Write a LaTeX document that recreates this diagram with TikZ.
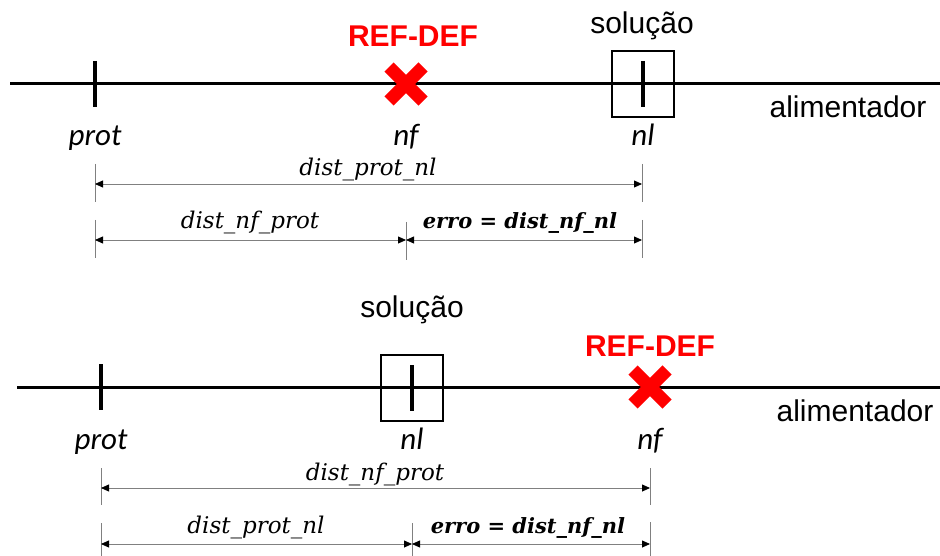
\documentclass[tikz,border=0pt]{standalone}
\usepackage{fontspec}
\setmainfont{Liberation Sans}
\newfontfamily\carlito{Carlito}
\newfontfamily\dimfont{DejaVu Serif}
\usetikzlibrary{arrows.meta}
\newcommand{\faultmark}[1]{%
  \draw[fault] ([shift={(-17,-17)}]#1) -- ([shift={(17,17)}]#1);
  \draw[fault] ([shift={(-17,17)}]#1) -- ([shift={(17,-17)}]#1);}
\begin{document}
\begin{tikzpicture}[x=1pt,y=-1pt,
  feeder/.style={line width=3pt},
  tickmark/.style={line width=4pt},
  solbox/.style={draw, line width=1.5pt, minimum width=62pt, minimum height=66pt, inner sep=0pt},
  fault/.style={draw=red, line width=13pt},
  lbl/.style={font=\fontsize{30}{32}\selectfont, anchor=base, inner sep=0pt},
  reflbl/.style={font=\fontsize{30}{32}\selectfont\bfseries, text=red, anchor=base, inner sep=0pt},
  ptlbl/.style={font=\fontsize{31}{33}\selectfont\carlito\itshape, anchor=base, inner sep=0pt},
  ext/.style={draw=gray, line width=0.8pt},
  dimline/.style={draw=gray, line width=0.8pt,
    {Triangle[length=8pt,width=7pt,color=black]}-{Triangle[length=8pt,width=7pt,color=black]}},
  dimlbl/.style={font=\fontsize{23}{25}\selectfont\dimfont\itshape, anchor=base, inner sep=0pt},
  dimbold/.style={dimlbl, font=\fontsize{21}{23}\selectfont\dimfont\bfseries\itshape}
]
\useasboundingbox (0,0) rectangle (940,556);

% ---------- upper case: fault before the located node ----------
\coordinate (a-start) at (10,84);
\coordinate (a-end) at (940,84);
\draw[feeder] (a-start) -- (a-end);

\coordinate (a-prot) at (95,84);
\draw[tickmark] (a-prot) ++(0,-23) -- ++(0,46);

\coordinate (a-nf) at (406,84);
\faultmark{a-nf}

\node[solbox] (a-box) at (643,84) {};
\draw[tickmark] (a-box.center) ++(0,-23) -- ++(0,46);

\node[reflbl] (a-ref) at (413,47) {REF-DEF};
\node[lbl] (a-sol) at (642,34) {solução};
\node[lbl] (a-ali) at (848,118) {alimentador};
\node[ptlbl] (a-prot-l) at (95,146) {prot};
\node[ptlbl] (a-nf-l) at (406,146) {nf};
\node[ptlbl] (a-nl-l) at (643,146) {nl};

% extension lines
\coordinate (a-e1t) at (95,164);  \coordinate (a-e1b) at (95,202);
\coordinate (a-e2t) at (642,164); \coordinate (a-e2b) at (642,202);
\coordinate (a-e3t) at (95,220);  \coordinate (a-e3b) at (95,258);
\coordinate (a-e4t) at (406,222); \coordinate (a-e4b) at (406,260);
\coordinate (a-e5t) at (642,220); \coordinate (a-e5b) at (642,258);
\foreach \i in {1,...,5} {\draw[ext] (a-e\i t) -- (a-e\i b);}

% dimension lines
\coordinate (a-d1l) at (95,184);  \coordinate (a-d1r) at (642,184);
\coordinate (a-d2l) at (95,240);  \coordinate (a-d2m) at (406,240);
\coordinate (a-d2r) at (642,240);
\draw[dimline] (a-d1l) -- (a-d1r);
\draw[dimline] (a-d2l) -- (a-d2m);
\draw[dimline] (a-d2m) -- (a-d2r);

\node[dimlbl] (a-l1) at (368,176) {dist\_prot\_nl};
\node[dimlbl] (a-l2) at (250,229) {dist\_nf\_prot};
\node[dimbold] (a-l3) at (520,229) {erro = dist\_nf\_nl};

% ---------- lower case: fault beyond the located node ----------
\coordinate (b-start) at (17,387);
\coordinate (b-end) at (940,387);
\draw[feeder] (b-start) -- (b-end);

\coordinate (b-prot) at (101,387);
\draw[tickmark] (b-prot) ++(0,-23) -- ++(0,46);

\node[solbox] (b-box) at (412,388) {};
\draw[tickmark] (b-box.center) ++(0,-23) -- ++(0,46);

\coordinate (b-nf) at (650,387);
\faultmark{b-nf}

\node[reflbl] (b-ref) at (650,356) {REF-DEF};
\node[lbl] (b-sol) at (412,317) {solução};
\node[lbl] (b-ali) at (855,421) {alimentador};
\node[ptlbl] (b-prot-l) at (101,449) {prot};
\node[ptlbl] (b-nl-l) at (412,449) {nl};
\node[ptlbl] (b-nf-l) at (650,449) {nf};

% extension lines
\coordinate (b-e1t) at (101,468); \coordinate (b-e1b) at (101,505);
\coordinate (b-e2t) at (650,468); \coordinate (b-e2b) at (650,505);
\coordinate (b-e3t) at (101,523); \coordinate (b-e3b) at (101,556);
\coordinate (b-e4t) at (412,523); \coordinate (b-e4b) at (412,556);
\coordinate (b-e5t) at (650,522); \coordinate (b-e5b) at (650,556);
\foreach \i in {1,...,5} {\draw[ext] (b-e\i t) -- (b-e\i b);}

% dimension lines
\coordinate (b-d1l) at (101,488); \coordinate (b-d1r) at (650,488);
\coordinate (b-d2l) at (101,544); \coordinate (b-d2m) at (412,544);
\coordinate (b-d2r) at (650,544);
\draw[dimline] (b-d1l) -- (b-d1r);
\draw[dimline] (b-d2l) -- (b-d2m);
\draw[dimline] (b-d2m) -- (b-d2r);

\node[dimlbl] (b-l1) at (375,480) {dist\_nf\_prot};
\node[dimlbl] (b-l2) at (256,533) {dist\_prot\_nl};
\node[dimbold] (b-l3) at (528,533) {erro = dist\_nf\_nl};
\end{tikzpicture}
\end{document}
